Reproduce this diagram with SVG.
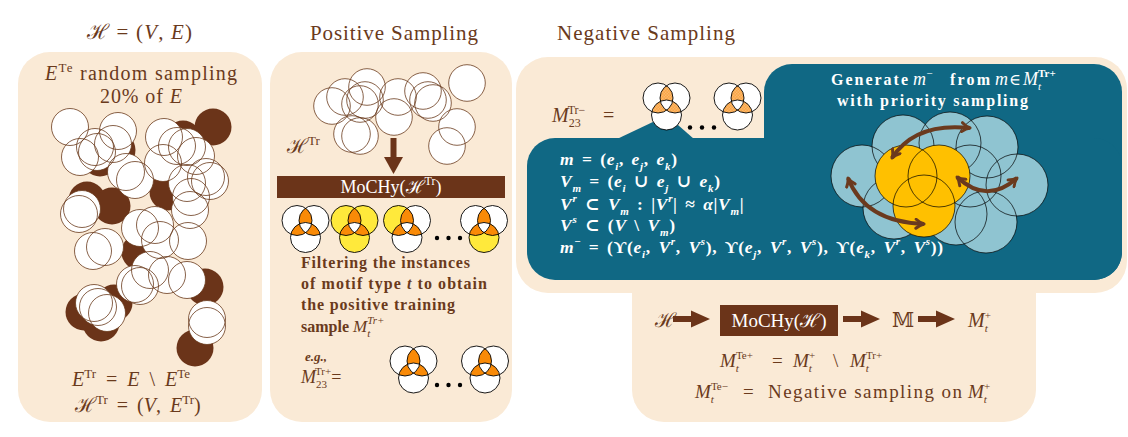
<svg xmlns="http://www.w3.org/2000/svg" width="1128" height="437" viewBox="0 0 1128 437">
<style>
text{font-family:"Liberation Serif","DejaVu Serif",serif;fill:#6a3a1c}
.i{font-style:italic}
.w{fill:#fff}
.b{font-weight:bold}
.n{font-weight:normal}
.bg{fill:#faead6}
.teal{fill:#106884}
.bc circle{fill:#6b3419}
.mo{fill:none;stroke:#000;stroke-width:.9}
.sb{font-size:11px;baseline-shift:-4.5px}
.sp{font-size:11px;baseline-shift:8px}
.tl{font-size:17.5px;letter-spacing:0.7px;word-spacing:2.5px}
.arr{fill:none;stroke:#6b3a1e;stroke-width:4;marker-start:url(#ah);marker-end:url(#ah)}
.pa{fill:#6b3419}
</style>
<defs>
<marker id="ah" viewBox="0 0 12 12" refX="10" refY="6" markerWidth="12" markerHeight="12" markerUnits="userSpaceOnUse" orient="auto-start-reverse">
<path d="M2,1.5 Q6,5 10,6 Q6,7 2,10.5" fill="none" stroke="#6b3a1e" stroke-width="3" stroke-linecap="round" stroke-linejoin="round"/>
</marker>
<pattern id="chk" width="3" height="3" patternUnits="userSpaceOnUse"><rect width="3" height="3" fill="#fcd3a8"/><rect width="1.5" height="1.5" fill="#f98a07"/><rect x="1.5" y="1.5" width="1.5" height="1.5" fill="#f98a07"/></pattern>
<clipPath id="cA"><circle cx="-8.5" cy="-8.5" r="15"/></clipPath>
<clipPath id="cB"><circle cx="8.5" cy="-8.5" r="15"/></clipPath>
<g id="ov">
<g clip-path="url(#cA)"><circle cx="8.5" cy="-8.5" r="15"/><circle cx="0" cy="8.5" r="15"/></g>
<g clip-path="url(#cB)"><circle cx="0" cy="8.5" r="15"/></g>
<g clip-path="url(#cA)"><g clip-path="url(#cB)"><circle cx="0" cy="8.5" r="15" fill="#fff"/></g></g>
<circle cx="-8.5" cy="-8.5" r="15" class="mo"/><circle cx="8.5" cy="-8.5" r="15" class="mo"/><circle cx="0" cy="8.5" r="15" class="mo"/>
</g>
<g id="lcirc">
<circle cx="70" cy="127" r="18.5"/><circle cx="118" cy="131" r="18.5"/><circle cx="164" cy="137" r="18.5"/><circle cx="95" cy="147" r="18.5"/><circle cx="80" cy="157" r="18.5"/><circle cx="113" cy="144" r="18.5"/><circle cx="97" cy="152" r="18.5"/><circle cx="177" cy="146" r="18.5"/><circle cx="196" cy="156" r="18.5"/><circle cx="187" cy="147" r="18.5"/><circle cx="163" cy="163" r="18.5"/><circle cx="126" cy="172" r="18.5"/><circle cx="135" cy="180" r="18.5"/><circle cx="206" cy="177" r="18.5"/><circle cx="210" cy="181" r="18.5"/><circle cx="187" cy="183" r="18.5"/><circle cx="191" cy="197" r="18.5"/><circle cx="190" cy="210" r="18.5"/><circle cx="79" cy="214" r="18.5"/><circle cx="82" cy="209" r="18.5"/><circle cx="155" cy="225" r="18.5"/><circle cx="140" cy="228" r="18.5"/><circle cx="160" cy="240" r="18.5"/><circle cx="188" cy="241" r="18.5"/><circle cx="93" cy="251" r="18.5"/><circle cx="105" cy="247" r="18.5"/><circle cx="150" cy="270" r="18.5"/><circle cx="167" cy="275" r="18.5"/><circle cx="187" cy="280" r="18.5"/><circle cx="140" cy="286" r="18.5"/><circle cx="135" cy="284" r="18.5"/><circle cx="94" cy="303" r="18.5"/><circle cx="98" cy="307" r="18.5"/><circle cx="107" cy="313" r="18.5"/><circle cx="207" cy="319" r="18.5"/><circle cx="207" cy="326" r="18.5"/>
</g>
<g id="mcirc">
<circle cx="332" cy="106" r="18.3"/><circle cx="345" cy="97" r="18.3"/><circle cx="367" cy="87" r="18.3"/><circle cx="365" cy="100" r="18.3"/><circle cx="360" cy="104" r="18.3"/><circle cx="352" cy="134" r="18.3"/><circle cx="360" cy="136" r="18.3"/><circle cx="394" cy="117" r="18.3"/><circle cx="398" cy="97" r="18.3"/><circle cx="423" cy="91" r="18.3"/><circle cx="428" cy="100" r="18.3"/><circle cx="433" cy="103" r="18.3"/><circle cx="467" cy="83" r="18.3"/><circle cx="457" cy="127" r="18.3"/><circle cx="447" cy="146" r="18.3"/>
</g>
<g id="bluec">
<circle cx="862" cy="176" r="31"/><circle cx="903" cy="146" r="31"/><circle cx="950" cy="143" r="31"/><circle cx="987" cy="147" r="31"/><circle cx="970" cy="176" r="31"/><circle cx="1017" cy="185" r="31"/><circle cx="894" cy="208" r="31"/><circle cx="956" cy="214" r="31"/><circle cx="986" cy="222" r="31"/>
</g>
<g id="yelc">
<circle cx="906" cy="176" r="31"/><circle cx="939" cy="176" r="31"/><circle cx="924" cy="206" r="31"/>
</g>
</defs>

<rect width="1128" height="437" fill="#fff"/>

<g id="titles">
<text x="87" y="39" font-size="21" textLength="105">ℋ = (<tspan class="i">V</tspan>, <tspan class="i">E</tspan>)</text>
<text x="310" y="40" font-size="21" textLength="168">Positive Sampling</text>
<text x="557" y="40" font-size="21" textLength="178">Negative Sampling</text>
</g>

<g id="split-panel">
<rect x="18" y="52" width="244" height="370" rx="32" class="bg"/>
<text x="45" y="80" font-size="20" textLength="192"><tspan class="i">E</tspan><tspan class="sp" style="font-size:13px">Te</tspan> random sampling</text>
<text x="100" y="103" font-size="20" textLength="82">20% of <tspan class="i">E</tspan></text>
<g class="bc">
<circle cx="213" cy="127" r="18.5"/><circle cx="183" cy="139" r="18.5"/><circle cx="100" cy="158" r="18.5"/><circle cx="117" cy="150" r="18.5"/><circle cx="168" cy="192" r="18.5"/><circle cx="87" cy="200" r="18.5"/><circle cx="112" cy="206" r="18.5"/><circle cx="140" cy="252" r="18.5"/><circle cx="205" cy="287" r="18.5"/><circle cx="84" cy="312" r="18.5"/><circle cx="101" cy="323" r="18.5"/><circle cx="114" cy="303" r="18.5"/><circle cx="195" cy="348" r="18.5"/>
</g>
<use href="#lcirc" fill="#fff"/>
<use href="#lcirc" fill="none" stroke="#6a3a1c" stroke-width="0.8"/>
<text x="72" y="386" font-size="20" style="word-spacing:5px"><tspan class="i">E</tspan><tspan class="sp" style="font-size:13px">Tr</tspan> = <tspan class="i">E</tspan> \ <tspan class="i">E</tspan><tspan class="sp" style="font-size:13px">Te</tspan></text>
<text x="75" y="412" font-size="20" style="word-spacing:4px">ℋ<tspan class="sp" style="font-size:13px">Tr</tspan> = (<tspan class="i">V</tspan>, <tspan class="i">E</tspan><tspan class="sp" style="font-size:13px">Tr</tspan>)</text>
</g>

<g id="positive-panel">
<rect x="270" y="52" width="242" height="370" rx="32" class="bg"/>
<use href="#mcirc" fill="#fff"/>
<use href="#mcirc" fill="none" stroke="#6a3a1c" stroke-width="0.8"/>
<text x="287" y="153" font-size="20">ℋ<tspan class="sp" style="font-size:13px">Tr</tspan></text>
</g>

<g id="mochy-tr">
<rect x="277" y="176" width="228" height="22" class="pa"/>
<text x="391" y="193" font-size="18" text-anchor="middle" class="w">MoCHy(ℋ<tspan class="sp" style="font-size:12px">Tr</tspan>)</text>
</g>

<g id="motifs-all">
<g transform="translate(305.5,229)"><circle cx="-8.5" cy="-8.5" r="15" fill="#fff"/><circle cx="8.5" cy="-8.5" r="15" fill="#fff"/><circle cx="0" cy="8.5" r="15" fill="#fff"/><use href="#ov" fill="#f98a07"/></g>
<g transform="translate(354.5,229)"><circle cx="-8.5" cy="-8.5" r="15" fill="#ffe93b"/><circle cx="8.5" cy="-8.5" r="15" fill="#ffe93b"/><circle cx="0" cy="8.5" r="15" fill="#ffe93b"/><use href="#ov" fill="#f98a07"/></g>
<g transform="translate(407,229)"><circle cx="-8.5" cy="-8.5" r="15" fill="#ffe93b"/><circle cx="8.5" cy="-8.5" r="15" fill="#fff"/><circle cx="0" cy="8.5" r="15" fill="#fff"/><use href="#ov" fill="#f98a07"/></g>
<circle cx="437" cy="238" r="2.2"/><circle cx="448.5" cy="238" r="2.2"/><circle cx="460" cy="238" r="2.2"/>
<g transform="translate(484,229)"><circle cx="-8.5" cy="-8.5" r="15" fill="#fff"/><circle cx="8.5" cy="-8.5" r="15" fill="#fff"/><circle cx="0" cy="8.5" r="15" fill="#ffe93b"/><use href="#ov" fill="#f98a07"/></g>
</g>

<g id="filter-text">
<text x="301" y="268" font-size="16" class="b" textLength="169">Filtering the instances</text>
<text x="301" y="289" font-size="16" class="b" textLength="186">of motif type <tspan class="i">t</tspan> to obtain</text>
<text x="301" y="310" font-size="16" class="b" textLength="154">the positive training</text>
<text x="301" y="332" font-size="16" class="b">sample <tspan class="i n" style="font-size:17px">M</tspan><tspan class="sb i n">t</tspan><tspan class="sp i n" dx="-3">Tr+</tspan></text>
<text x="305" y="361" font-size="13" class="b i">e.g.,</text>
<text x="301" y="383" font-size="18"><tspan class="i">M</tspan><tspan class="sb">23</tspan><tspan class="sp" dx="-12">Tr+</tspan>=</text>
</g>

<g id="motifs-eg">
<g transform="translate(413.5,369.5)"><circle cx="-8.5" cy="-8.5" r="15" fill="#fff"/><circle cx="8.5" cy="-8.5" r="15" fill="#fff"/><circle cx="0" cy="8.5" r="15" fill="#fff"/><use href="#ov" fill="#f98a07"/></g>
<circle cx="437" cy="385" r="2.2"/><circle cx="448.5" cy="385" r="2.2"/><circle cx="460" cy="385" r="2.2"/>
<g transform="translate(485,369.5)"><circle cx="-8.5" cy="-8.5" r="15" fill="#fff"/><circle cx="8.5" cy="-8.5" r="15" fill="#fff"/><circle cx="0" cy="8.5" r="15" fill="#fff"/><use href="#ov" fill="#f98a07"/></g>
</g>

<g id="negative-panel">
<rect x="516" y="57" width="611" height="236" rx="32" class="bg"/>
<rect x="632" y="260" width="404" height="162" rx="32" class="bg"/>
<rect x="764" y="64" width="358" height="216" rx="28" class="teal"/>
<rect x="527" y="138" width="595" height="142" rx="28" class="teal"/>
<polygon points="617,139 655,121 678,125 694,139" class="teal"/>
<text x="552" y="122" font-size="20"><tspan class="i">M</tspan><tspan class="sb" style="font-size:12px">23</tspan><tspan class="sp" dx="-13" style="font-size:12px">Tr−</tspan></text>
<text x="603" y="122" font-size="20">=</text>
</g>

<g id="motifs-neg">
<g transform="translate(666.5,106.5)"><circle cx="-8.5" cy="-8.5" r="15" fill="#fff"/><circle cx="8.5" cy="-8.5" r="15" fill="#fff"/><circle cx="0" cy="8.5" r="15" fill="#fff"/><use href="#ov" fill="url(#chk)"/></g>
<circle cx="690" cy="127.5" r="2.2"/><circle cx="702" cy="127.5" r="2.2"/><circle cx="714" cy="127.5" r="2.2"/>
<g transform="translate(737.5,106.5)"><circle cx="-8.5" cy="-8.5" r="15" fill="#fff"/><circle cx="8.5" cy="-8.5" r="15" fill="#fff"/><circle cx="0" cy="8.5" r="15" fill="#fff"/><use href="#ov" fill="url(#chk)"/></g>
</g>

<g id="neg-definitions">
<text x="560" y="165" class="w b tl"><tspan class="i">m</tspan> = (<tspan class="i">e</tspan><tspan class="sb i">i</tspan>, <tspan class="i">e</tspan><tspan class="sb i">j</tspan>, <tspan class="i">e</tspan><tspan class="sb i">k</tspan>)</text>
<text x="560" y="187" class="w b tl"><tspan class="i">V</tspan><tspan class="sb i">m</tspan> = (<tspan class="i">e</tspan><tspan class="sb i">i</tspan> ∪ <tspan class="i">e</tspan><tspan class="sb i">j</tspan> ∪ <tspan class="i">e</tspan><tspan class="sb i">k</tspan>)</text>
<text x="560" y="210" class="w b tl"><tspan class="i">V</tspan><tspan class="sp i">r</tspan> ⊂ <tspan class="i">V</tspan><tspan class="sb i">m</tspan> : |<tspan class="i">V</tspan><tspan class="sp i">r</tspan>| ≈ <tspan class="i">α</tspan>|<tspan class="i">V</tspan><tspan class="sb i">m</tspan>|</text>
<text x="560" y="231" class="w b tl"><tspan class="i">V</tspan><tspan class="sp i">s</tspan> ⊂ (<tspan class="i">V</tspan> \ <tspan class="i">V</tspan><tspan class="sb i">m</tspan>)</text>
<text x="560" y="253" class="w b tl"><tspan class="i">m</tspan><tspan class="sp">−</tspan> = (ϒ(<tspan class="i">e</tspan><tspan class="sb i">i</tspan>, <tspan class="i">V</tspan><tspan class="sp i">r</tspan>, <tspan class="i">V</tspan><tspan class="sp i">s</tspan>), ϒ(<tspan class="i">e</tspan><tspan class="sb i">j</tspan>, <tspan class="i">V</tspan><tspan class="sp i">r</tspan>, <tspan class="i">V</tspan><tspan class="sp i">s</tspan>), ϒ(<tspan class="i">e</tspan><tspan class="sb i">k</tspan>, <tspan class="i">V</tspan><tspan class="sp i">r</tspan>, <tspan class="i">V</tspan><tspan class="sp i">s</tspan>))</text>
</g>

<g id="priority-sampling">
<text x="831" y="85" font-size="16" class="w b" textLength="77">Generate</text>
<text x="913" y="85" font-size="18" class="w i">m<tspan class="sp">−</tspan></text>
<text x="950" y="85" font-size="16" class="w b" textLength="40">from</text>
<text x="995" y="85" font-size="18" class="w i">m</text>
<text x="1009" y="85" font-size="16" class="w">∈</text>
<text x="1023" y="85" font-size="18" class="w"><tspan class="i">M</tspan><tspan class="sb i">t</tspan><tspan class="sp b" dx="-3">Tr+</tspan></text>
<text x="837" y="106" font-size="16" class="w b" textLength="191">with priority sampling</text>
<use href="#bluec" fill="#8fc4d1"/>
<use href="#bluec" fill="none" stroke="#000" stroke-width="0.7"/>
<use href="#yelc" fill="#ffc000"/>
<use href="#yelc" fill="none" stroke="#000" stroke-width="0.7"/>
</g>

<g id="pipeline">
<text x="655" y="327" font-size="20">ℋ</text>
<rect x="720" y="305" width="118" height="31" class="pa"/>
<text x="779" y="327" font-size="19" text-anchor="middle" class="w">MoCHy(ℋ)</text>
<text x="892" y="327" font-size="20" style="font-family:'DejaVu Serif','DejaVu Sans',serif">𝕄</text>
<text x="968" y="327" font-size="20"><tspan class="i">M</tspan><tspan class="sb i">t</tspan><tspan class="sp" dx="-3">+</tspan></text>
<text x="720" y="367" font-size="19"><tspan class="i">M</tspan><tspan class="sb i">t</tspan><tspan class="sp" dx="-3">Te+</tspan></text>
<text x="772" y="367" font-size="19">=</text>
<text x="793" y="367" font-size="19"><tspan class="i">M</tspan><tspan class="sb i">t</tspan><tspan class="sp" dx="-3">+</tspan></text>
<text x="833" y="367" font-size="19">\</text>
<text x="850" y="367" font-size="19"><tspan class="i">M</tspan><tspan class="sb i">t</tspan><tspan class="sp" dx="-3">Tr+</tspan></text>
<text x="695" y="398" font-size="19"><tspan class="i">M</tspan><tspan class="sb i">t</tspan><tspan class="sp" dx="-3">Te−</tspan></text>
<text x="743" y="398" font-size="19">=</text>
<text x="768" y="398" font-size="19" textLength="194">Negative sampling on</text>
<text x="968" y="398" font-size="19"><tspan class="i">M</tspan><tspan class="sb i">t</tspan><tspan class="sp" dx="-3">+</tspan></text>
</g>

<g id="connectors">
<rect x="390.5" y="138" width="6" height="20" class="pa"/>
<polygon points="384,157 403,157 393.5,174" class="pa"/>
<path d="M673,316h19v6h-19z M691,310.5 L710,319 L691,327.5z" class="pa"/>
<path d="M843,316h19v6h-19z M861,310.5 L880,319 L861,327.5z" class="pa"/>
<path d="M918,316h19v6h-19z M936,310.5 L955,319 L936,327.5z" class="pa"/>
<path d="M892,158 Q915,122 970,128" class="arr"/>
<path d="M848,178 Q865,222 924,224" class="arr"/>
<path d="M957,177 Q987,205 1017,178" class="arr"/>
</g>
</svg>
